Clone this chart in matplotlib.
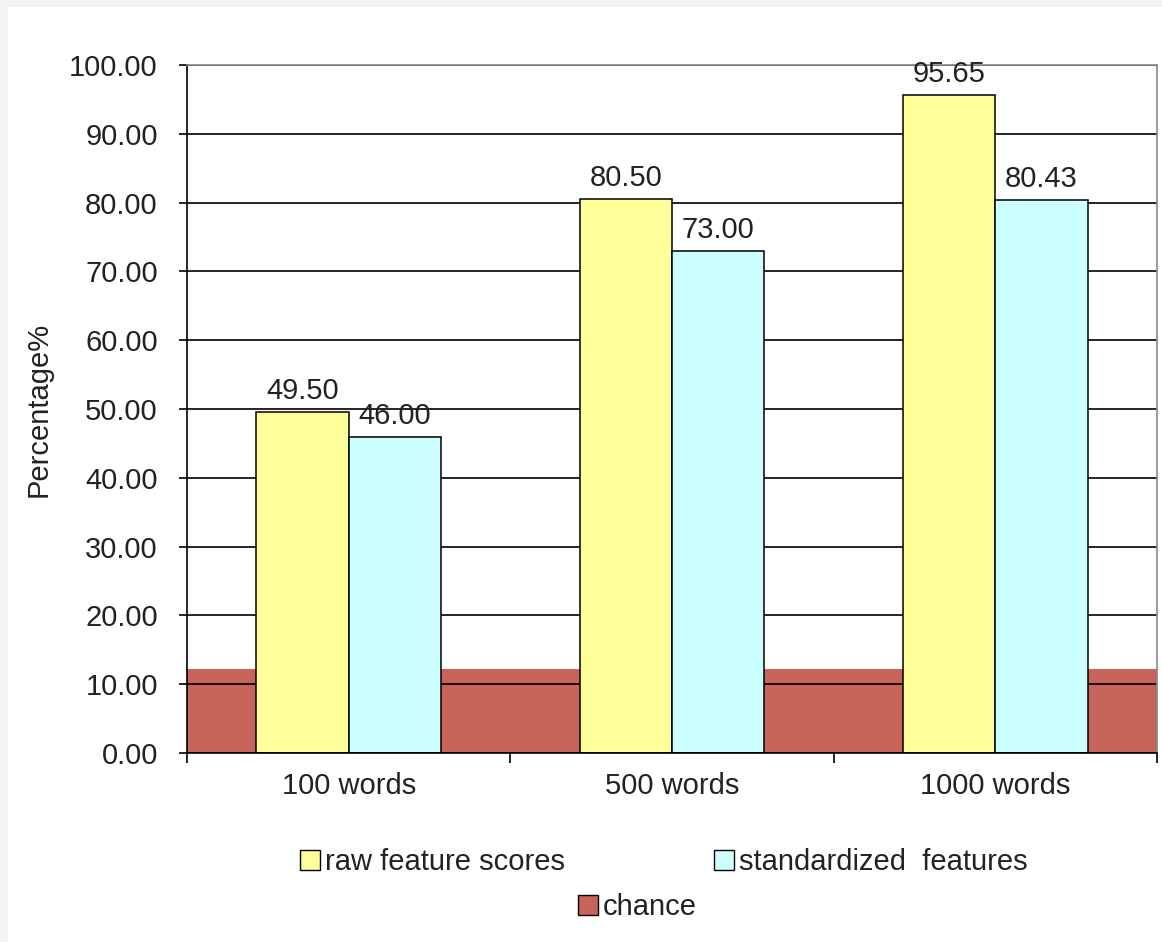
import matplotlib.pyplot as plt
from matplotlib.patches import Rectangle, Patch
import numpy as np

# ======================================
categories = ["100 words", "500 words", "1000 words"]
raw_scores = [49.50, 80.50, 95.65]
standardized = [46.00, 73.00, 80.43]
chance = [12.2, 12.2, 12.2]
# ======================================

plt.rcParams['font.family'] = ['Liberation Sans', 'DejaVu Sans']
fs = 21

fig = plt.figure(figsize=(11.62, 9.42), dpi=100, facecolor='#f3f3f3')
fig.add_artist(Rectangle((8 / 1162, 0), 1, 1 - 7 / 942, transform=fig.transFigure,
                         facecolor='white', edgecolor='none', zorder=-10))

ax = fig.add_axes([187 / 1162, 1 - 753 / 942, (1157 - 187) / 1162, (753 - 65) / 942])

x = np.arange(len(categories))
w = 1 / 3.5

ax.bar(x, chance, width=1.0, color='#C8645A', edgecolor='none', zorder=1)
b1 = ax.bar(x - w / 2, raw_scores, width=w, color='#FFFF99', edgecolor='black', linewidth=1.1, zorder=2)
b2 = ax.bar(x + w / 2, standardized, width=w, color='#CCFFFF', edgecolor='black', linewidth=1.1, zorder=2)

for bars, vals in ((b1, raw_scores), (b2, standardized)):
    for b, v in zip(bars, vals):
        ax.annotate("%.2f" % v, (b.get_x() + b.get_width() / 2, v), xytext=(0, 5),
                    textcoords='offset points', ha='center', va='bottom', fontsize=fs, color='#222222')

ax.set_xlim(-0.5, 2.5)
ax.set_ylim(0, 100)
ax.set_yticks(np.arange(0, 101, 10))
ax.set_yticklabels(["%.2f" % t for t in np.arange(0, 101, 10)], fontsize=fs, color='#222222')
ax.set_xticks([-0.5, 0.5, 1.5, 2.5])
ax.set_xticklabels([])
ax.set_xticks(x, minor=True)
ax.set_xticklabels(categories, minor=True, fontsize=fs, color='#222222')
ax.tick_params(axis='x', which='major', direction='out', length=7, width=1.2)
ax.tick_params(axis='x', which='minor', length=0, pad=14)
ax.tick_params(axis='y', direction='out', length=6, width=1.2, pad=15)

ax.set_axisbelow('line')
ax.yaxis.grid(True, color='black', linewidth=1.2)
ax.set_ylabel("Percentage%", fontsize=fs, color='#222222', labelpad=12)

for s in ('left', 'bottom'):
    ax.spines[s].set_color('black')
    ax.spines[s].set_linewidth(1.2)
for s in ('top', 'right'):
    ax.spines[s].set_color('#888888')
    ax.spines[s].set_linewidth(1.2)

handles = [
    (Patch(facecolor='#FFFF99', edgecolor='black'), "raw feature scores", 300, 862),
    (Patch(facecolor='#CCFFFF', edgecolor='black'), "standardized  features", 714, 862),
    (Patch(facecolor='#C8645A', edgecolor='black'), "chance", 578, 907),
]
for h, lbl, px, py in handles:
    fig.legend([h], [lbl], loc='center left', bbox_to_anchor=(px / 1162, 1 - py / 942),
               frameon=False, fontsize=fs, borderpad=0, borderaxespad=0,
               handlelength=0.7, handleheight=0.7, handletextpad=0.15,
               labelcolor='#222222')

plt.savefig('out.png', dpi=100, facecolor=fig.get_facecolor())
